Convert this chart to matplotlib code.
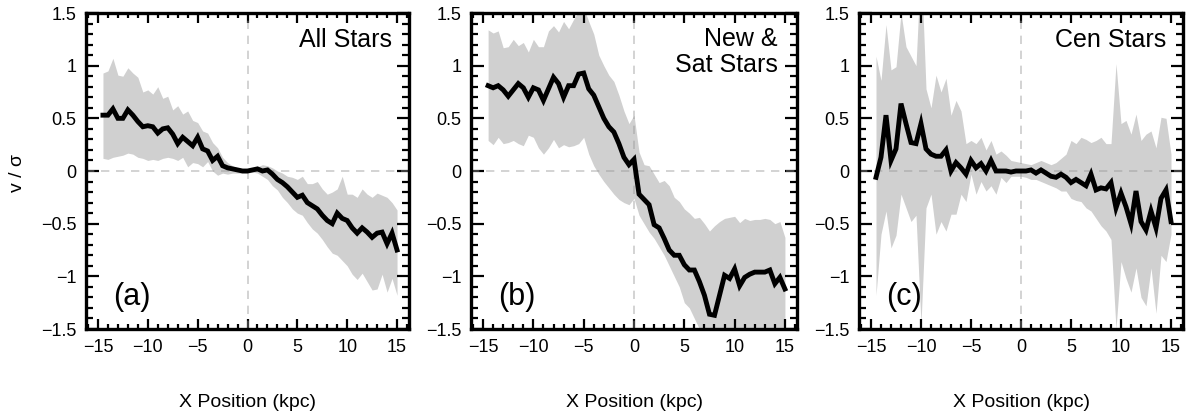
import matplotlib
matplotlib.use("Agg")
import matplotlib.pyplot as plt
from matplotlib.ticker import MultipleLocator, FixedLocator

plt.rcParams['font.family'] = ['Liberation Sans', 'DejaVu Sans']

# bin centres (kpc)
x_pos = [-14.5, -14.0, -13.5, -13.0, -12.5, -12.0, -11.5, -11.0, -10.5, -10.0,
         -9.5, -9.0, -8.5, -8.0, -7.5, -7.0, -6.5, -6.0, -5.5, -5.0,
         -4.5, -4.0, -3.5, -3.0, -2.5, -2.0, -1.5, -1.0, -0.5, 0.0,
         0.5, 1.0, 1.5, 2.0, 2.5, 3.0, 3.5, 4.0, 4.5, 5.0,
         5.5, 6.0, 6.5, 7.0, 7.5, 8.0, 8.5, 9.0, 9.5, 10.0,
         10.5, 11.0, 11.5, 12.0, 12.5, 13.0, 13.5, 14.0, 14.5, 15.0]

# (a) All stars
a_mid = [0.53, 0.53, 0.59, 0.50, 0.50, 0.58, 0.53, 0.47, 0.42, 0.43,
         0.42, 0.36, 0.40, 0.41, 0.35, 0.26, 0.32, 0.28, 0.24, 0.32,
         0.21, 0.19, 0.10, 0.14, 0.05, 0.03, 0.02, 0.01, 0.00, 0.00,
         0.01, 0.02, 0.00, 0.01, -0.03, -0.08, -0.11, -0.15, -0.20, -0.25,
         -0.23, -0.30, -0.33, -0.36, -0.42, -0.47, -0.50, -0.40, -0.45, -0.47,
         -0.54, -0.59, -0.54, -0.58, -0.63, -0.59, -0.58, -0.69, -0.59, -0.75]
a_hi = [0.93, 0.95, 1.07, 0.91, 0.90, 0.98, 0.93, 0.89, 0.75, 0.77,
        0.73, 0.80, 0.69, 0.71, 0.58, 0.62, 0.54, 0.57, 0.48, 0.46,
        0.38, 0.36, 0.27, 0.22, 0.13, 0.08, 0.05, 0.03, 0.02, 0.02,
        0.03, 0.04, 0.06, 0.05, 0.03, 0.00, -0.02, -0.05, -0.06, -0.08,
        -0.05, -0.12, -0.12, -0.10, -0.17, -0.22, -0.20, -0.17, -0.05, -0.22,
        -0.22, -0.25, -0.17, -0.22, -0.25, -0.21, -0.23, -0.25, -0.30, -0.37]
a_lo = [0.12, 0.11, 0.13, 0.14, 0.15, 0.17, 0.16, 0.13, 0.12, 0.10,
        0.11, 0.10, 0.12, 0.13, 0.12, 0.10, 0.13, 0.04, 0.08, 0.07,
        0.04, 0.09, 0.00, -0.04, -0.02, -0.03, -0.02, -0.02, -0.02, -0.02,
        -0.01, -0.02, -0.05, -0.08, -0.14, -0.18, -0.25, -0.30, -0.36, -0.40,
        -0.42, -0.49, -0.55, -0.59, -0.65, -0.72, -0.78, -0.80, -0.85, -0.90,
        -0.98, -1.03, -0.97, -1.05, -1.13, -1.12, -0.98, -1.15, -1.02, -1.18]

# (b) New & Sat stars
b_mid = [0.81, 0.79, 0.81, 0.77, 0.71, 0.77, 0.83, 0.79, 0.70, 0.79,
         0.77, 0.67, 0.78, 0.89, 0.83, 0.70, 0.81, 0.81, 0.92, 0.93,
         0.78, 0.72, 0.61, 0.50, 0.42, 0.37, 0.26, 0.13, 0.06, 0.11,
         -0.22, -0.27, -0.32, -0.51, -0.54, -0.64, -0.75, -0.80, -0.80, -0.89,
         -0.94, -0.94, -1.05, -1.18, -1.36, -1.37, -1.18, -0.99, -1.02, -0.93,
         -1.09, -1.01, -0.98, -0.96, -0.96, -0.96, -0.94, -1.07, -1.01, -1.12]
b_hi = [1.34, 1.31, 1.33, 1.17, 1.18, 1.25, 1.19, 1.22, 1.13, 1.25,
        1.18, 1.18, 1.33, 1.38, 1.32, 1.42, 1.35, 1.44, 1.52, 1.55,
        1.42, 1.30, 1.10, 1.00, 0.91, 0.85, 0.72, 0.57, 0.45, 0.53,
        0.18, 0.06, 0.05, -0.03, -0.11, -0.09, -0.14, -0.25, -0.29, -0.36,
        -0.40, -0.45, -0.44, -0.50, -0.57, -0.52, -0.48, -0.45, -0.44, -0.43,
        -0.49, -0.45, -0.47, -0.46, -0.46, -0.45, -0.46, -0.50, -0.48, -0.63]
b_lo = [0.29, 0.25, 0.32, 0.26, 0.27, 0.29, 0.26, 0.24, 0.34, 0.32,
        0.22, 0.16, 0.22, 0.30, 0.22, 0.25, 0.23, 0.24, 0.26, 0.32,
        0.16, 0.05, -0.03, -0.10, -0.16, -0.22, -0.27, -0.30, -0.32, -0.26,
        -0.42, -0.50, -0.58, -0.64, -0.72, -0.80, -0.90, -1.00, -1.10, -1.25,
        -1.30, -1.40, -1.50, -1.60, -1.70, -1.80, -1.80, -1.80, -1.80, -1.80,
        -1.80, -1.80, -1.80, -1.80, -1.80, -1.80, -1.80, -1.80, -1.80, -1.80]

# (c) Cen stars
c_mid = [-0.06, 0.13, 0.53, 0.10, 0.21, 0.64, 0.45, 0.27, 0.26, 0.45,
         0.21, 0.16, 0.14, 0.14, 0.20, 0.00, 0.08, 0.03, -0.03, 0.10,
         0.03, 0.07, 0.00, 0.10, 0.00, 0.00, 0.00, -0.01, 0.00, 0.00,
         0.00, 0.01, -0.02, 0.01, -0.02, -0.05, -0.06, -0.03, -0.06, -0.11,
         -0.08, -0.11, -0.14, -0.03, -0.18, -0.16, -0.17, -0.11, -0.35, -0.21,
         -0.34, -0.50, -0.19, -0.48, -0.56, -0.38, -0.54, -0.26, -0.18, -0.48]
c_hi = [1.09, 0.86, 1.39, 0.96, 0.99, 1.50, 1.18, 1.09, 1.00, 2.00,
        0.78, 0.60, 0.91, 0.75, 0.88, 0.53, 0.67, 0.57, 0.26, 0.29,
        0.26, 0.32, 0.20, 0.29, 0.16, 0.19, 0.15, 0.10, 0.09, 0.08,
        0.07, 0.06, 0.08, 0.10, 0.08, 0.06, 0.08, 0.12, 0.16, 0.29,
        0.26, 0.32, 0.30, 0.27, 0.29, 0.32, 0.26, 0.26, 1.02, 0.45,
        0.48, 0.35, 0.54, 0.29, 0.35, 0.38, 0.22, 0.51, 0.50, 0.16]
c_lo = [-1.18, -0.60, -0.38, -0.73, -0.61, -0.22, -0.35, -0.48, -0.42, -1.45,
        -0.35, -0.22, -0.60, -0.48, -0.57, -0.41, -0.41, -0.22, -0.29, -0.03,
        -0.22, -0.10, -0.19, -0.14, -0.22, -0.06, -0.11, -0.05, -0.05, -0.05,
        -0.06, -0.08, -0.08, -0.10, -0.12, -0.14, -0.16, -0.19, -0.19, -0.26,
        -0.28, -0.29, -0.35, -0.38, -0.45, -0.52, -0.57, -0.65, -1.50, -0.86,
        -1.02, -1.15, -0.92, -1.20, -1.28, -0.92, -1.35, -0.80, -0.86, -0.60]

x_ticks = [-15, -10, -5, 0, 5, 10, 15]
y_ticks = [-1.5, -1.0, -0.5, 0.0, 0.5, 1.0, 1.5]
y_ticklabels = ['\u22121.5', '\u22121', '\u22120.5', '0', '0.5', '1', '1.5']
x_ticklabels = ['\u221215', '\u221210', '\u22125', '0', '5', '10', '15']

panels = [
    (a_mid, a_lo, a_hi, ['All Stars'], '(a)'),
    (b_mid, b_lo, b_hi, ['New &', 'Sat Stars'], '(b)'),
    (c_mid, c_lo, c_hi, ['Cen Stars'], '(c)'),
]

W, H = 1192, 415
fig = plt.figure(figsize=(W / 100, H / 100), dpi=100)
lefts = [86, 471, 859]
widths = [323, 326, 324]
top_px, bot_px = 13, 329

for i, (mid, lo, hi, title_lines, tag) in enumerate(panels):
    ax = fig.add_axes([lefts[i] / W, 1 - bot_px / H, widths[i] / W, (bot_px - top_px) / H])
    ax.fill_between(x_pos, lo, hi, color='#d0d0d0', lw=0, zorder=1)
    ax.axhline(0, color='#999999', alpha=0.5, lw=1.2, dashes=(5, 4), zorder=2)
    ax.axvline(0, color='#999999', alpha=0.5, lw=1.2, dashes=(5, 4), zorder=2)
    ax.plot(x_pos, mid, color='black', lw=3.5, zorder=3, solid_joinstyle='miter')
    ax.set_xlim(-16.2, 16.2)
    ax.set_ylim(-1.5, 1.5)
    ax.xaxis.set_major_locator(FixedLocator(x_ticks))
    ax.set_xticklabels(x_ticklabels)
    ax.yaxis.set_major_locator(FixedLocator(y_ticks))
    ax.set_yticklabels(y_ticklabels)
    ax.xaxis.set_minor_locator(MultipleLocator(1))
    ax.yaxis.set_minor_locator(MultipleLocator(0.1))
    ax.tick_params(axis='both', which='both', direction='in', top=True, right=True,
                   labelsize=13, width=1.6, colors='black')
    ax.tick_params(axis='x', which='major', length=7, pad=7)
    ax.tick_params(axis='x', which='minor', length=3.6)
    ax.tick_params(axis='y', which='major', length=9, pad=7)
    ax.tick_params(axis='y', which='minor', length=5)
    for sp in ax.spines.values():
        sp.set_linewidth(2.4)
        sp.set_zorder(5)
    # titles
    if len(title_lines) == 1:
        ax.text(0.948, 0.893, title_lines[0], transform=ax.transAxes, ha='right',
                va='baseline', fontsize=18)
    else:
        ax.text(0.942, 0.896, title_lines[0], transform=ax.transAxes, ha='right',
                va='baseline', fontsize=18)
        ax.text(0.942, 0.814, title_lines[1], transform=ax.transAxes, ha='right',
                va='baseline', fontsize=18)
    ax.text(0.084, 0.076, tag, transform=ax.transAxes, ha='left', va='baseline',
            fontsize=22)
    cx = (lefts[i] + widths[i] / 2) / W
    fig.text(cx, 1 - 402 / H, 'X Position (kpc)', ha='center', va='center', fontsize=14)

fig.text(17 / W, 1 - 173 / H, 'v / \u03c3', rotation=90, ha='center', va='center', fontsize=14)

fig.savefig('out.png', dpi=100)
